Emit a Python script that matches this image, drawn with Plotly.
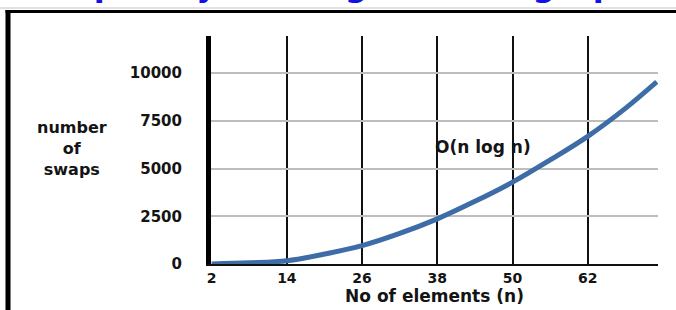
import plotly.graph_objects as go

# data
n_elements = [2, 8, 14, 20, 26, 32, 38, 44, 50, 56, 62, 68, 73]
swaps = [0, 60, 173, 520, 961, 1600, 2363, 3280, 4286, 5450, 6686, 8150, 9538]
x_ticks = [2, 14, 26, 38, 50, 62]
y_ticks = [0, 2500, 5000, 7500, 10000]
y_tick_labels = ["0", "2500", "5000", "7500", "10000"]

W, H = 676, 310
L, R, T, B = 211, 18, 36, 46
pw, ph = W - L - R, H - T - B

def px_x(px):
    return (px - L) / pw

def px_y(py):
    return (H - B - py) / ph

FONT = "DejaVu Sans"
TXT = "#141414"

fig = go.Figure()
fig.add_trace(go.Scatter(
    x=n_elements, y=swaps, mode="lines",
    line=dict(color="#3d6ca6", width=5, shape="spline"),
    hoverinfo="skip", showlegend=False,
))

fig.update_layout(
    width=W, height=H,
    margin=dict(l=L, r=R, t=T, b=B),
    paper_bgcolor="white", plot_bgcolor="white",
    xaxis=dict(
        range=[1.9, 73.2], tickvals=x_ticks,
        showgrid=True, gridcolor="#111", gridwidth=2,
        showline=True, linecolor="#111", linewidth=2,
        zeroline=False, ticks="", ticklabelstandoff=0,
        tickfont=dict(family=FONT, size=14, color=TXT, weight="bold"),
        title=dict(text="No of elements (n)", standoff=4,
                   font=dict(family=FONT, size=17, color=TXT, weight="bold")),
        automargin=False, fixedrange=True,
    ),
    yaxis=dict(
        range=[0, 11940], tickvals=y_ticks, ticktext=y_tick_labels,
        showgrid=True, gridcolor="#bdbdbd", gridwidth=1.5,
        showline=True, linecolor="black", linewidth=5,
        zeroline=False, ticks="", ticklabelstandoff=21,
        tickfont=dict(family=FONT, size=15, color=TXT, weight="bold"),
        automargin=False, fixedrange=True,
    ),
    shapes=[
        dict(type="line", xref="paper", yref="paper",
             x0=px_x(0), x1=px_x(676), y0=px_y(8), y1=px_y(8),
             line=dict(color="#c4c4c4", width=1)),
        dict(type="line", xref="paper", yref="paper",
             x0=px_x(8), x1=px_x(8), y0=px_y(400), y1=px_y(10),
             line=dict(color="black", width=5)),
        dict(type="line", xref="paper", yref="paper",
             x0=px_x(5.5), x1=px_x(800), y0=px_y(11.5), y1=px_y(11.5),
             line=dict(color="black", width=3)),
    ],
    annotations=[
        dict(text="number<br>of<br>swaps", xref="paper", yref="paper",
             x=px_x(72), y=px_y(148), xanchor="center", yanchor="middle",
             showarrow=False, align="center",
             font=dict(family=FONT, size=16, color=TXT, weight="bold")),
        dict(text="O(n log n)", xref="paper", yref="paper",
             x=px_x(483), y=px_y(147), xanchor="center", yanchor="middle",
             showarrow=False,
             font=dict(family=FONT, size=17, color=TXT, weight="bold")),
        dict(text="Complexity of Merge Sort in graph", xref="paper", yref="paper",
             x=px_x(327), y=px_y(6), xanchor="center", yanchor="bottom",
             showarrow=False,
             font=dict(family=FONT, size=32, color="#1212e6", weight="bold")),
    ],
)

fig.write_html("out.html", config={"displayModeBar": False},
               post_script="document.body.style.margin='0';")
